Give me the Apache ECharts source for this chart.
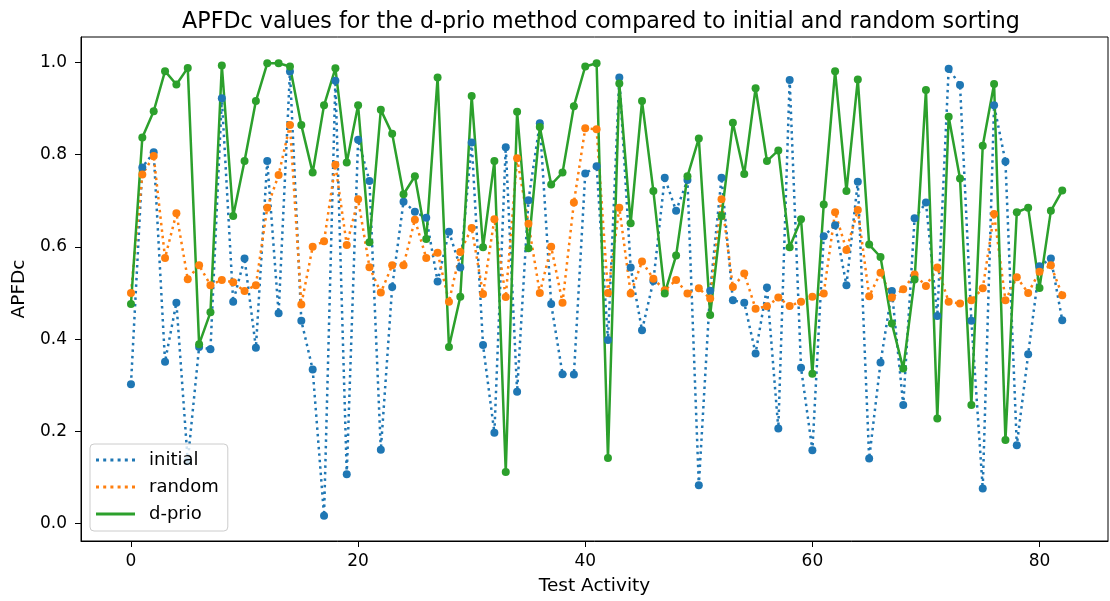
<!DOCTYPE html>
<html>
<head>
<meta charset="utf-8">
<script src="https://cdn.jsdelivr.net/npm/echarts@6/dist/echarts.min.js"></script>
<style>html,body{margin:0;padding:0;background:#fff;}#c{width:1110px;height:601px;}</style>
</head>
<body>
<div id="c"></div>
<script>
const xTicks = [0, 20, 40, 60, 80];
const yTicks = [0, 0.2, 0.4, 0.6, 0.8, 1.0];
const initial = [0.302,0.772,0.805,0.351,0.479,0.135,0.383,0.378,0.922,0.481,
0.575,0.381,0.786,0.456,0.980,0.440,0.334,0.017,0.960,0.107,
0.832,0.743,0.160,0.513,0.698,0.676,0.663,0.525,0.633,0.555,
0.826,0.387,0.197,0.816,0.286,0.701,0.868,0.476,0.324,0.323,
0.759,0.775,0.398,0.967,0.555,0.419,0.526,0.750,0.678,0.745,
0.083,0.505,0.750,0.484,0.479,0.369,0.512,0.206,0.962,0.338,
0.159,0.623,0.647,0.517,0.741,0.141,0.349,0.504,0.257,0.662,
0.696,0.450,0.986,0.951,0.440,0.076,0.907,0.785,0.170,0.367,
0.558,0.575,0.441];
const random = [0.500,0.757,0.797,0.576,0.673,0.530,0.560,0.517,0.528,0.523,
0.504,0.517,0.685,0.756,0.864,0.475,0.600,0.612,0.778,0.604,
0.703,0.556,0.501,0.560,0.560,0.659,0.576,0.587,0.481,0.589,
0.641,0.498,0.660,0.491,0.792,0.650,0.500,0.600,0.479,0.696,
0.857,0.855,0.500,0.685,0.499,0.568,0.531,0.506,0.528,0.499,
0.510,0.488,0.703,0.513,0.542,0.466,0.471,0.490,0.472,0.481,
0.492,0.499,0.675,0.593,0.680,0.493,0.544,0.490,0.508,0.540,
0.515,0.555,0.481,0.477,0.484,0.510,0.671,0.484,0.534,0.500,
0.546,0.560,0.495];
const dprio = [0.476,0.837,0.894,0.981,0.952,0.988,0.389,0.458,0.993,0.667,
0.786,0.916,0.998,0.998,0.991,0.864,0.761,0.907,0.987,0.783,
0.907,0.610,0.897,0.845,0.714,0.753,0.617,0.967,0.383,0.492,
0.927,0.599,0.786,0.112,0.893,0.597,0.860,0.735,0.761,0.905,
0.991,0.998,0.142,0.954,0.651,0.916,0.721,0.499,0.581,0.753,
0.835,0.452,0.667,0.869,0.758,0.944,0.786,0.809,0.599,0.660,
0.325,0.692,0.981,0.721,0.963,0.605,0.578,0.434,0.336,0.529,
0.940,0.228,0.882,0.748,0.257,0.819,0.953,0.181,0.675,0.685,
0.511,0.678,0.722];

const toXY = arr => arr.map((v, i) => [i, v]);
const FONT = 'DejaVu Sans';
let dots = '';
for (let k = 0; k < 6; k++) { const x = (k * 36 / 5).toFixed(2); dots += 'M' + x + ',0h3v3h-3z'; }
const dottedIcon = 'path://' + dots;
const solidIcon = 'path://M0,0h39v3h-39z';

const chart = echarts.init(document.getElementById('c'), null, {renderer: 'canvas'});
chart.setOption({
  animation: false,
  backgroundColor: '#fff',
  textStyle: {fontFamily: FONT},
  title: {
    text: 'APFDc values for the d-prio method compared to initial and random sorting',
    left: 596, textAlign: 'center', top: 6,
    textStyle: {fontFamily: FONT, fontSize: 22.2, fontWeight: 'normal', color: '#000'}
  },
  grid: {left: 81, right: 2, top: 37, bottom: 60, show: true, borderColor: '#000', borderWidth: 1, backgroundColor: 'transparent'},
  legend: {
    orient: 'vertical', left: 90, top: 444,
    itemWidth: 39, itemHeight: 14, itemGap: 9,
    padding: [7, 9, 8, 6],
    borderColor: '#cccccc', borderWidth: 1, borderRadius: 4,
    backgroundColor: 'rgba(255,255,255,0.8)',
    textStyle: {fontFamily: FONT, fontSize: 18, color: '#000', padding: [0, 0, 0, 9]},
    data: [
      {name: 'initial', icon: dottedIcon},
      {name: 'random', icon: dottedIcon},
      {name: 'd-prio', icon: solidIcon}
    ]
  },
  xAxis: {
    type: 'value', min: -4.4, max: 86.03,
    name: 'Test Activity', nameLocation: 'middle', nameGap: 36,
    nameTextStyle: {fontFamily: FONT, fontSize: 18.5, color: '#000'},
    axisLine: {show: true, onZero: false, lineStyle: {color: '#000', width: 1}},
    axisTick: {show: true, length: 6, customValues: xTicks, lineStyle: {color: '#000'}},
    axisLabel: {customValues: xTicks, fontFamily: FONT, fontSize: 17, color: '#000', margin: 12},
    splitLine: {show: false}
  },
  yAxis: {
    type: 'value', min: -0.0378, max: 1.055,
    name: 'APFDc', nameLocation: 'middle', nameGap: 50,
    nameTextStyle: {fontFamily: FONT, fontSize: 18.5, color: '#000'},
    axisLine: {show: true, onZero: false, lineStyle: {color: '#000', width: 1}},
    axisTick: {show: true, length: 6, customValues: yTicks, lineStyle: {color: '#000'}},
    axisLabel: {customValues: yTicks, fontFamily: FONT, fontSize: 17, color: '#000', margin: 14,
      formatter: v => v.toFixed(1)},
    splitLine: {show: false}
  },
  series: [
    {name: 'initial', type: 'line', data: toXY(initial), symbol: 'circle', symbolSize: 8, showSymbol: true,
     itemStyle: {color: '#1f77b4'}, lineStyle: {color: '#1f77b4', width: 2.5, type: [2.5, 4], cap: 'butt'}},
    {name: 'random', type: 'line', data: toXY(random), symbol: 'circle', symbolSize: 8, showSymbol: true,
     itemStyle: {color: '#ff7f0e'}, lineStyle: {color: '#ff7f0e', width: 2.5, type: [2.5, 4], cap: 'butt'}},
    {name: 'd-prio', type: 'line', data: toXY(dprio), symbol: 'circle', symbolSize: 8, showSymbol: true,
     itemStyle: {color: '#2ca02c'}, lineStyle: {color: '#2ca02c', width: 2.5}}
  ]
});
</script>
</body>
</html>
